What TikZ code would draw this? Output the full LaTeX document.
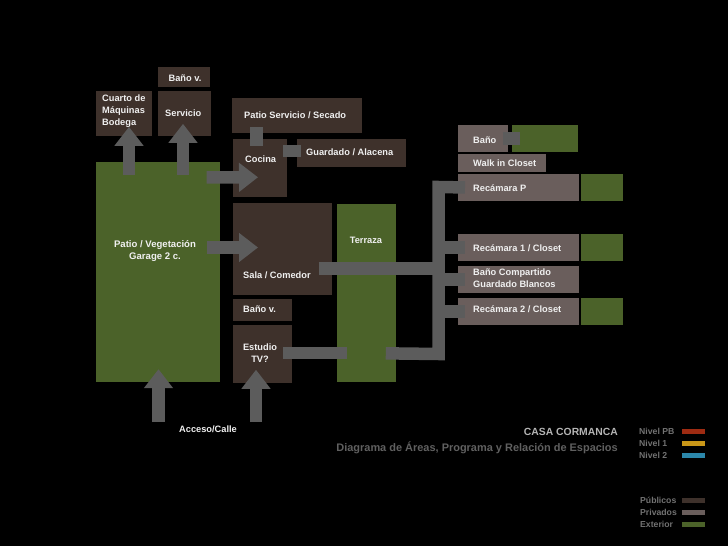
\documentclass[tikz,border=0pt]{standalone}
\usepackage{fontspec}
\setmainfont{Liberation Sans}
\usepackage{tikz}
\usetikzlibrary{arrows.meta,calc,positioning}

\definecolor{pubcol}{HTML}{3E312B}
\definecolor{privcol}{HTML}{6A5E5C}
\definecolor{extcol}{HTML}{4B6229}
\definecolor{linkcol}{HTML}{5C5C5C}
\definecolor{txtcol}{HTML}{F0F0F0}
\definecolor{titlecol}{HTML}{B5B5B5}
\definecolor{subcol}{HTML}{606060}
\definecolor{legcol}{HTML}{727272}
\definecolor{pbcol}{HTML}{9E2B12}
\definecolor{nunocol}{HTML}{C99718}
\definecolor{ndoscol}{HTML}{2B87AA}

\tikzset{
  area/.style={rectangle, inner sep=0pt, outer sep=0pt, anchor=north west},
  pub/.style={area, fill=pubcol},
  priv/.style={area, fill=privcol},
  ext/.style={area, fill=extcol},
  lbl/.style={text=txtcol, font=\bfseries\fontsize{9.3}{12}\selectfont, inner sep=0pt},
  ttl/.style={inner sep=0pt, anchor=east},
  leg/.style={text=legcol, font=\bfseries\fontsize{8.7}{10}\selectfont, inner sep=0pt, anchor=west},
  lnk/.style={draw=linkcol, line width=12.5bp},
  arr/.style={lnk, -{Triangle[length=19bp, width=28bp]}},
}

\begin{document}
\begin{tikzpicture}[x=1bp, y=-1bp]

    % Background
    \useasboundingbox[fill=black] (0,0) rectangle (728,546);

    % Planta baja, lado izquierdo
    \node[pub, minimum width=52, minimum height=20] (banoA) at (158,67) {};
    \node[pub, minimum width=56, minimum height=45] (cuarto) at (96,91) {};
    \node[pub, minimum width=53, minimum height=45] (servicio) at (158,91) {};
    \node[pub, minimum width=130, minimum height=35] (psec) at (232,98) {};
    \node[pub, minimum width=54, minimum height=58] (cocina) at (233,139) {};
    \node[pub, minimum width=109, minimum height=28] (guardado) at (297,139) {};
    \node[ext, minimum width=124, minimum height=221] (patio) at (96,162) {};
    \node[pub, minimum width=99, minimum height=92] (sala) at (233,203) {};
    \node[ext, minimum width=59, minimum height=179] (terraza) at (337,204) {};
    \node[pub, minimum width=59, minimum height=22] (banoB) at (233,299) {};
    \node[pub, minimum width=59, minimum height=58] (estudio) at (233,325) {};

    % Planta alta, lado derecho
    \node[priv, minimum width=50, minimum height=27] (bano) at (458,125) {};
    \node[ext, minimum width=66, minimum height=27] (banoExt) at (512,125) {};
    \node[priv, minimum width=88, minimum height=18] (walkin) at (458,154) {};
    \node[priv, minimum width=121, minimum height=27] (recP) at (458,174) {};
    \node[ext, minimum width=42, minimum height=27] (recPExt) at (581,174) {};
    \node[priv, minimum width=121, minimum height=27] (recA) at (458,234) {};
    \node[ext, minimum width=42, minimum height=27] (recAExt) at (581,234) {};
    \node[priv, minimum width=121, minimum height=27] (banoComp) at (458,266) {};
    \node[priv, minimum width=121, minimum height=27] (recB) at (458,298) {};
    \node[ext, minimum width=42, minimum height=27] (recBExt) at (581,298) {};

    % Gray links
    \coordinate (busTop) at (438.5,187);
    \coordinate (busBot) at (438.5,354);
    \coordinate (salaOut) at ($(sala.north east)+(-13,65.5)$);
    \coordinate (accA) at (158.5,422);
    \coordinate (accB) at (256,422);

    \draw[lnk] ($(psec.south west)+(24.5,-6)$) -- ($(cocina.north west)+(23.5,7)$);
    \draw[lnk] ($(cocina.north east)+(-4,12)$) -- ($(guardado.north west)+(4,12)$);
    \draw[lnk] ($(bano.east)+(-5,0)$) -- ($(banoExt.west)+(8,0)$);
    \draw[lnk] ($(estudio.east)+(-9,-1)$) -- ($(estudio.east -| terraza.west)+(10,-1)$);
    \draw[lnk] (salaOut) -- (salaOut -| busTop);
    \draw[lnk] ($(recP.west)+(7,0)$) -- (busTop) -- (busBot) -- ($(terraza.south east)+(-10,-29)$);
    \draw[lnk] (recA.west -| busTop) -- ($(recA.west)+(7,0)$);
    \draw[lnk] (banoComp.west -| busTop) -- ($(banoComp.west)+(7,0)$);
    \draw[lnk] (recB.west -| busTop) -- ($(recB.west)+(7,0)$);

    % Arrows
    \draw[arr] ($(patio.north west)+(33,13)$) -- ($(cuarto.south west)+(33,-9)$);
    \draw[arr] ($(patio.north west)+(87,13)$) -- ($(servicio.south west)+(25,-12)$);
    \draw[arr] ($(patio.north east)+(-13,15.5)$) -- ($(cocina.south west)+(25,-19.5)$);
    \draw[arr] ($(patio.north east)+(-13,85.5)$) -- ($(sala.north west)+(25,44.5)$);
    \draw[arr] (accA) -- ($(patio.south west)+(62.5,-13)$);
    \draw[arr] (accB) -- ($(estudio.south west)+(23,-13)$);

    % Labels
    \node[lbl] (banoAT) at (185,78) {Baño v.};
    \node[lbl, align=left, anchor=west] (cuartoT) at (102,111) {Cuarto de\\Máquinas\\Bodega};
    \node[lbl, anchor=west] (servicioT) at (165,113) {Servicio};
    \node[lbl, anchor=west] (psecT) at (244,115) {Patio Servicio / Secado};
    \node[lbl, anchor=west] (cocinaT) at (245,159) {Cocina};
    \node[lbl, anchor=west] (guardadoT) at (306,152) {Guardado / Alacena};
    \node[lbl, align=center, font=\bfseries\fontsize{9.6}{12}\selectfont] (patioT) at (155,251) {Patio / Vegetación\\Garage 2 c.};
    \node[lbl, anchor=west] (salaT) at (243,275) {Sala / Comedor};
    \node[lbl] (terrazaT) at (366,240) {Terraza};
    \node[lbl, anchor=west] (banoBT) at (243,309.5) {Baño v.};
    \node[lbl, align=center] (estudioT) at (260,353) {Estudio\\TV?};
    \node[lbl] (accesoT) at (208,429) {Acceso/Calle};

    \node[lbl, anchor=west] (banoT) at (473,140) {Baño};
    \node[lbl, anchor=west] (walkinT) at (473,163) {Walk in Closet};
    \node[lbl, anchor=west] (recPT) at (473,188) {Recámara P};
    \node[lbl, anchor=west] (recAT) at (473,248) {Recámara 1 / Closet};
    \node[lbl, align=left, anchor=west] (banoCompT) at (473,278.5) {Baño Compartido\\Guardado Blancos};
    \node[lbl, anchor=west] (recBT) at (473,309.5) {Recámara 2 / Closet};

    % Title
    \node[ttl, text=titlecol, font=\bfseries\fontsize{10.4}{12}\selectfont] (title) at (618,432) {CASA CORMANCA};
    \node[ttl, text=subcol, font=\bfseries\fontsize{11}{12}\selectfont] (subtitle) at (618,448) {Diagrama de Áreas, Programa y Relación de Espacios};

    % Legend
    \node[leg] (nivPB) at (639,431) {Nivel PB};
    \node[leg] (nivA) at (639,443) {Nivel 1};
    \node[leg] (nivB) at (639,455) {Nivel 2};
    \fill[pbcol] (682,429) rectangle (705,434);
    \fill[nunocol] (682,441) rectangle (705,446);
    \fill[ndoscol] (682,453) rectangle (705,458);

    \node[leg] (publicos) at (640,500) {Públicos};
    \node[leg] (privados) at (640,512) {Privados};
    \node[leg] (exterior) at (640,524) {Exterior};
    \fill[pubcol] (682,498) rectangle (705,503);
    \fill[privcol] (682,510) rectangle (705,515);
    \fill[extcol] (682,522) rectangle (705,527);

\end{tikzpicture}
\end{document}
